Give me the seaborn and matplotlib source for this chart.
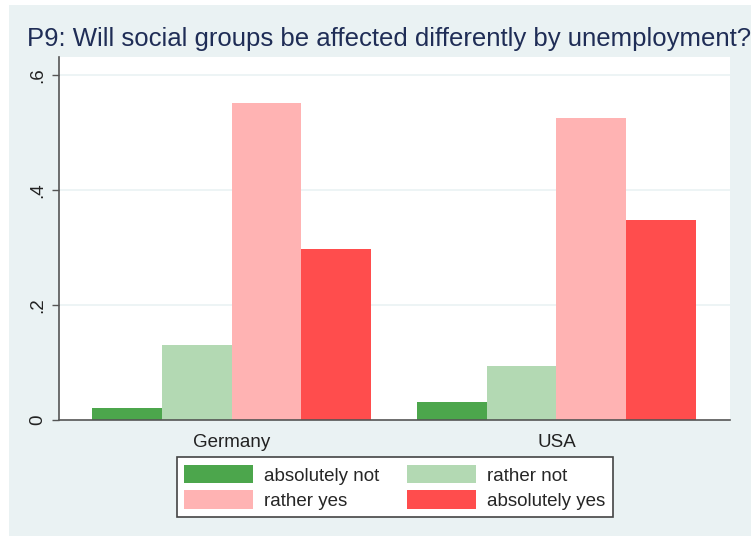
import numpy as np
import pandas as pd
import matplotlib
matplotlib.use('Agg')
import matplotlib.pyplot as plt
import seaborn as sns
from matplotlib.patches import Rectangle

# data
countries = ['Germany', 'USA']
answers = ['absolutely not', 'rather not', 'rather yes', 'absolutely yes']
germany = [0.021, 0.131, 0.551, 0.297]
usa = [0.031, 0.094, 0.525, 0.347]
colors = ['#4ca64c', '#b3d9b3', '#ffb3b3', '#ff4d4d']
yticks = [0, 0.2, 0.4, 0.6]
ytick_labels = ['0', '.2', '.4', '.6']
title = 'P9: Will social groups be affected differently by unemployment?'

df = pd.DataFrame({
    'country': np.repeat(countries, len(answers)),
    'answer': answers * len(countries),
    'share': germany + usa,
})

sns.set_theme(style='white')
plt.rcParams['font.family'] = ['Liberation Sans', 'DejaVu Sans']

W, H = 751, 536
fig = plt.figure(figsize=(W / 100, H / 100), dpi=100, facecolor='white')
bg = '#eaf2f3'
fig.patches.append(Rectangle((9 / W, 0), 1 - 9 / W, (H - 5) / H,
                             transform=fig.transFigure, facecolor=bg,
                             edgecolor='none', zorder=-10))

ax = fig.add_axes([59 / W, (H - 420) / H, (730 - 59) / W, (420 - 57) / H])
sns.barplot(data=df, x='country', y='share', hue='answer', hue_order=answers,
            palette=dict(zip(answers, colors)), width=0.86, saturation=1,
            ax=ax, linewidth=0, legend=True)

ax.set_facecolor('white')
ax.set_xlim(-0.531, 1.534)
ax.set_ylim(0, 0.631)
ax.set_yticks(yticks)
ax.set_yticklabels(ytick_labels, rotation=90, va='center')
ax.set_xlabel('')
ax.set_ylabel('')
for y in yticks[1:]:
    ax.axhline(y, color=bg, lw=1.2, zorder=0)
ax.set_axisbelow(True)

for side in ['top', 'right']:
    ax.spines[side].set_visible(False)
for side in ['left', 'bottom']:
    ax.spines[side].set_color('#555555')
    ax.spines[side].set_linewidth(1.2)
ax.tick_params(axis='y', left=True, length=5, width=1, color='#555555',
               labelsize=13.5, labelcolor='#222222', pad=4)
ax.tick_params(axis='x', bottom=False, labelsize=13.5, labelcolor='#222222', pad=4)

# legend fills row by row in the reference
handles, labels = ax.get_legend_handles_labels()
order = [0, 2, 1, 3]
ax.legend([handles[i] for i in order], [labels[i] for i in order], ncol=2,
          loc='upper center', bbox_to_anchor=(0.5, -0.103), fontsize=13.5,
          frameon=True, fancybox=False, edgecolor='#444444', framealpha=1,
          handlelength=3.7, handleheight=1.15, handletextpad=0.55,
          columnspacing=1.5, labelspacing=0.3, borderpad=0.4,
          borderaxespad=0)
ax.get_legend().get_frame().set_linewidth(1.2)

fig.text(27 / W, (H - 46) / H, title, fontsize=18.5, color='#1f2d56',
         ha='left', va='baseline')

fig.savefig('out.png', dpi=100, facecolor='white')
